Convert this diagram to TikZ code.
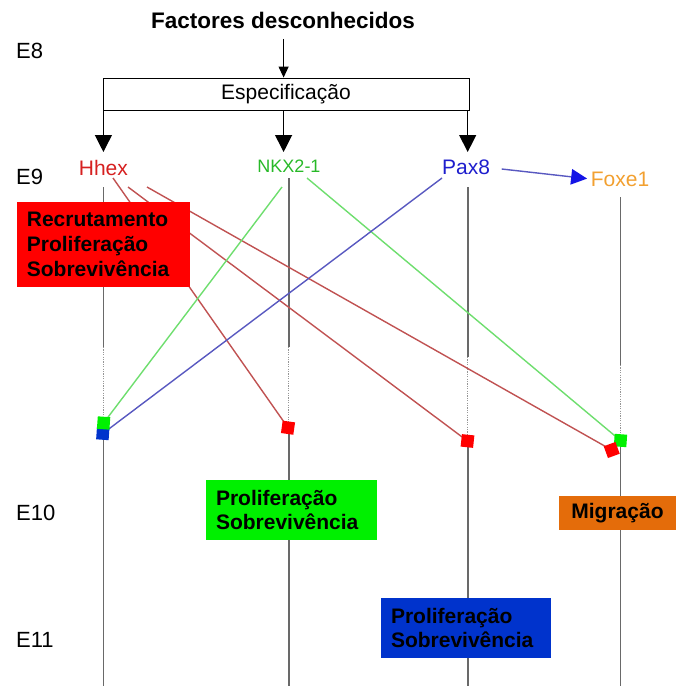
\documentclass[tikz,border=0pt]{standalone}
\usepackage{fontspec}
\setmainfont{Liberation Sans}
\usetikzlibrary{arrows.meta}

\definecolor{hhexred}{RGB}{214,32,32}
\definecolor{nkxgreen}{RGB}{40,185,40}
\definecolor{paxblue}{RGB}{30,30,205}
\definecolor{foxorange}{RGB}{242,160,48}
\definecolor{linkred}{RGB}{192,82,82}
\definecolor{linkgreen}{RGB}{110,222,110}
\definecolor{linkblue}{RGB}{88,88,192}
\definecolor{tipblue}{RGB}{20,20,230}
\definecolor{boxred}{RGB}{255,0,0}
\definecolor{boxgreen}{RGB}{0,240,0}
\definecolor{boxblue}{RGB}{0,51,204}
\definecolor{boxorange}{RGB}{228,108,10}
\definecolor{trackgray}{RGB}{105,105,105}

\begin{document}
\begin{tikzpicture}[x=1pt,y=-1pt,
  stage/.style={font=\fontsize{22}{26}\selectfont, anchor=west, inner sep=0pt},
  gene/.style={font=\fontsize{21}{25}\selectfont, inner sep=0pt},
  specbox/.style={draw, line width=0.9pt, minimum width=366pt, minimum height=32pt,
    inner sep=0pt, font=\fontsize{21}{25}\selectfont},
  effect/.style={font=\bfseries\fontsize{21}{24.7}\selectfont, align=left,
    inner xsep=10pt, inner ysep=0pt, text=black},
  track/.style={draw=trackgray, line width=1.8pt},
  faint/.style={draw=trackgray!70, line width=1.3pt, dash pattern=on 1.2pt off 1.2pt},
  link/.style={line width=1.4pt},
  bigarrow/.style={draw=black, line width=1.2pt, -{Triangle[length=17pt,width=17pt]}},
  smallarrow/.style={draw=black, line width=1.2pt, -{Triangle[length=11pt,width=10pt]}},
  sqmark/.style={minimum size=12.5pt, inner sep=0pt, draw=none}
]
\useasboundingbox (0,0) rectangle (676,686);

% stage labels
\node[stage] (e8)  at (16,51)  {E8};
\node[stage] (e9)  at (16,177) {E9};
\node[stage] (e10) at (16,513) {E10};
\node[stage] (e11) at (16,640) {E11};

% title and specification
\node[font=\bfseries\fontsize{22.5}{26}\selectfont, inner sep=0pt] (factores) at (283,20.5) {Factores desconhecidos};
\node[specbox] (spec) at (286,94) {Especificação};
\draw[smallarrow, shorten <=10pt] (factores.south -| spec.north) ++(-2.4,0) coordinate (fs) -- (fs |- spec.north);

% genes
\node[gene, text=hhexred] (hhex) at (103.4,168) {Hhex};
\node[gene, text=nkxgreen, font=\fontsize{18}{22}\selectfont] (nkx) at (289,166) {NKX2-1};
\node[gene, text=paxblue] (pax) at (466,167) {Pax8};
\node[gene, text=foxorange] (foxe) at (620,179) {Foxe1};

\coordinate (tipH) at (103.4,152);
\coordinate (tipN) at (283.6,152);
\coordinate (tipP) at (467.7,152);
\draw[bigarrow] (spec.south -| tipH) -- (tipH);
\draw[bigarrow] (spec.south -| tipN) -- (tipN);
\draw[bigarrow] (spec.south -| tipP) -- (tipP);

\coordinate (paxOut) at (501.7,169);
\draw[draw=linkblue, line width=1.4pt, -{Triangle[length=16pt,width=15.5pt, color=tipblue]}, shorten >=3.5pt]
  (paxOut) -- (foxe.west);

% time tracks: solid, faint dotted stretch, solid again
\draw[track] (103.4,187) -- (103.4,347);
\draw[faint] (103.4,347) -- (103.4,420);
\draw[track] (103.4,430) -- (103.4,686);
\draw[track] (288.8,178) -- (288.8,347);
\draw[faint] (288.8,347) -- (288.8,425);
\draw[track] (288.8,425) -- (288.8,686);
\draw[track] (467.7,187) -- (467.7,357);
\draw[faint] (467.7,357) -- (467.7,437);
\draw[track] (467.7,437) -- (467.7,686);
\draw[track] (620.5,197) -- (620.5,365);
\draw[faint] (620.5,365) -- (620.5,435);
\draw[track] (620.5,435) -- (620.5,686);

% square positions
\coordinate (sqHb) at (102.8,433.5);
\coordinate (sqHg) at (103.6,423);
\coordinate (sqN)  at (288,427.7);
\coordinate (sqP)  at (467.5,441);
\coordinate (sqFg) at (620.5,440.5);
\coordinate (sqFr) at (611.7,450);

% regulatory links
\coordinate (hA) at (113,178);
\coordinate (hB) at (128,187);
\coordinate (hC) at (147,187);
\coordinate (nA) at (282,187);
\coordinate (nB) at (307,178);
\coordinate (pA) at (442,178);
\draw[link, linkred] (hA) -- (sqN);
\draw[link, linkred] (hB) -- (sqP);
\draw[link, linkred] (hC) -- (sqFr);
\draw[link, linkgreen] (nA) -- (sqHg);
\draw[link, linkgreen] (nB) -- (sqFg);
\draw[link, linkblue] (pA) -- (sqHb);

% target squares above the links
\node[sqmark, fill=boxblue, rotate=-4] (mHb) at (sqHb) {};
\node[sqmark, fill=boxgreen, rotate=-4] (mHg) at (sqHg) {};
\node[sqmark, fill=boxred, rotate=-8] (mN) at (sqN) {};
\node[sqmark, fill=boxred, rotate=-6] (mP) at (sqP) {};
\node[sqmark, fill=boxgreen, rotate=-4] (mFg) at (sqFg) {};
\node[sqmark, fill=boxred, rotate=20] (mFr) at (sqFr) {};

% effect boxes
\node[effect, fill=boxred, text width=153pt, minimum height=85pt] (redbox) at (103.4,244.5)
  {Recrutamento\\Proliferação\\Sobrevivência};
\node[effect, fill=boxgreen, text width=151pt, minimum height=60pt] (greenbox) at (291.5,510)
  {Proliferação\\Sobrevivência};
\node[effect, fill=boxblue, text width=150pt, minimum height=60pt] (bluebox) at (466,628)
  {Proliferação\\Sobrevivência};
\node[effect, fill=boxorange, minimum width=117pt, minimum height=34pt, align=center] (orangebox) at (617.5,513)
  {Migração};
\end{tikzpicture}
\end{document}
